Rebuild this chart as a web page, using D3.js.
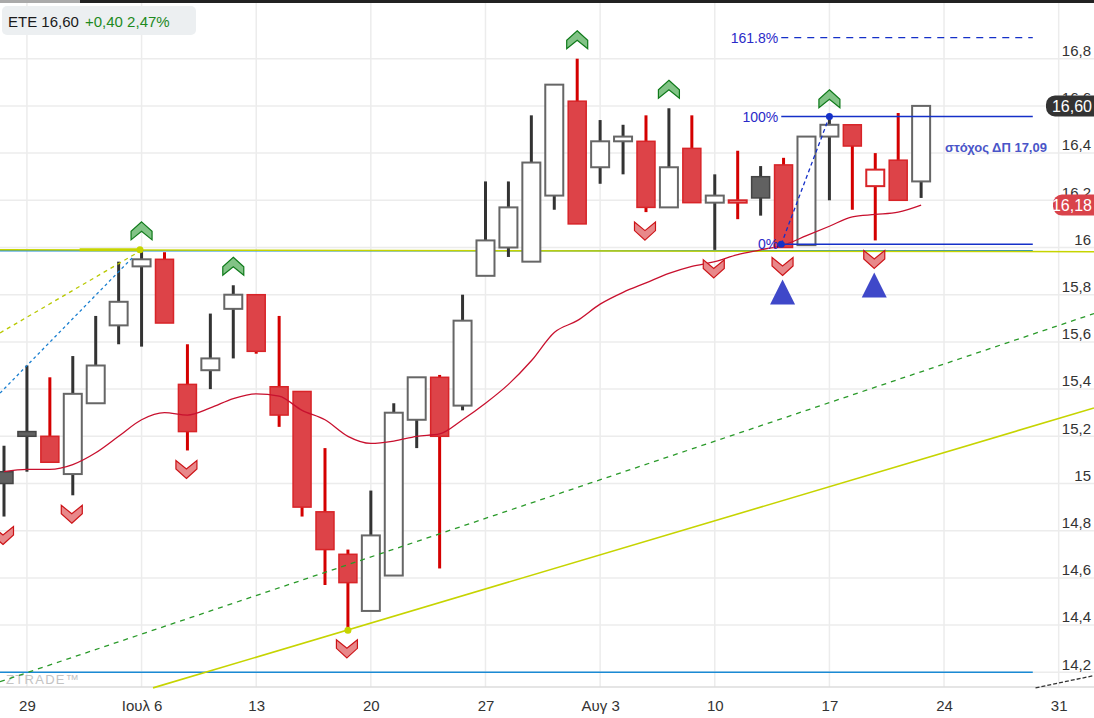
<!DOCTYPE html>
<html><head><meta charset="utf-8">
<script src="https://cdn.jsdelivr.net/npm/d3@7"></script>
<style>html,body{margin:0;padding:0;background:#fff;overflow:hidden}svg{display:block;font-family:"Liberation Sans",Arial,sans-serif}</style>
</head><body><svg id="c" width="1094" height="718"></svg>
<script>
// ---------- data ----------
const dates = ["2020-06-26","2020-06-29","2020-06-30","2020-07-01","2020-07-02","2020-07-03",
"2020-07-06","2020-07-07","2020-07-08","2020-07-09","2020-07-10",
"2020-07-13","2020-07-14","2020-07-15","2020-07-16","2020-07-17",
"2020-07-20","2020-07-21","2020-07-22","2020-07-23","2020-07-24",
"2020-07-27","2020-07-28","2020-07-29","2020-07-30","2020-07-31",
"2020-08-03","2020-08-04","2020-08-05","2020-08-06","2020-08-07",
"2020-08-10","2020-08-11","2020-08-12","2020-08-13","2020-08-14",
"2020-08-17","2020-08-18","2020-08-19","2020-08-20","2020-08-21"];
const open  = [15.05,15.22,15.20,15.04,15.34,15.67, 15.92,15.95,15.42,15.48,15.74, 15.80,15.41,15.39,14.88,14.70, 14.46,14.61,15.27,15.45,15.33, 15.88,16.00,15.94,16.22,16.62, 16.34,16.45,16.45,16.17,16.42, 16.19,16.19,16.30,16.35,16.01, 16.47,16.52,16.26,16.37,16.28];
const high  = [15.16,15.50,15.45,15.54,15.71,15.94, 15.99,15.98,15.59,15.72,15.84, 15.80,15.71,15.39,15.15,14.72, 14.97,15.34,15.45,15.46,15.80, 16.28,16.28,16.56,16.69,16.80, 16.54,16.52,16.56,16.59,16.56, 16.31,16.41,16.345,16.38,16.47, 16.55,16.52,16.40,16.57,16.60];
const low   = [14.86,15.05,15.09,14.95,15.34,15.59, 15.58,15.68,15.14,15.40,15.53, 15.55,15.24,14.86,14.57,14.38, 14.46,14.61,15.15,14.64,15.31, 15.88,15.96,15.94,16.16,16.10, 16.27,16.31,16.15,16.17,16.19, 15.99,16.12,16.135,16.00,16.01, 16.20,16.16,16.03,16.20,16.21];
const close = [15.00,15.20,15.09,15.38,15.50,15.77, 15.95,15.68,15.22,15.53,15.80, 15.56,15.29,14.90,14.72,14.58, 14.78,15.30,15.45,15.20,15.69, 16.03,16.17,16.36,16.69,16.10, 16.45,16.47,16.17,16.34,16.19, 16.22,16.20,16.21,16.00,16.47, 16.52,16.43,16.33,16.20,16.60];
const prevClose = 14.97;
const movingAvg = [15.05,15.06,15.06,15.08,15.13,15.20, 15.27,15.30,15.29,15.32,15.36, 15.38,15.37,15.31,15.27,15.20, 15.17,15.18,15.20,15.21,15.27, 15.34,15.42,15.52,15.64,15.69, 15.76,15.81,15.85,15.89,15.92, 15.94,15.97,15.99,16.01,16.05, 16.09,16.13,16.14,16.15,16.18];
const upSignals   = ["2020-07-06","2020-07-10","2020-07-31","2020-08-06","2020-08-17"];
const downSignals = ["2020-06-26","2020-07-01","2020-07-08","2020-07-17","2020-08-05","2020-08-10","2020-08-13","2020-08-19"];
const buyTriangles = ["2020-08-13","2020-08-19"];
const xTickIndex  = [1,6,11,16,21,26,31,36,41,46];
const xTickLabels = ["29","Ιουλ 6","13","20","27","Αυγ 3","10","17","24","31"];
const yTicks = [14.2,14.4,14.6,14.8,15.0,15.2,15.4,15.6,15.8,16.0,16.2,16.4,16.6,16.8];
// drawn lines as [index, value] pairs
const supportLine   = [[6.5,14.134],[47.54,15.32]];
const channelDashed = [[-0.174,14.16],[47.54,15.72]];
const resistYellow  = [[-0.174,15.990],[47.54,15.982]];
const resistYellowBold = [[3.3,15.990],[5.93,15.990]];
const blueLevelTop  = [[-0.174,15.986],[44.87,15.986]];
const blueLevelBot  = [[-0.174,14.200],[44.87,14.200]];
const yellowDashTL  = [[-0.174,15.638],[5.80,15.977]];
const blueDashTL    = [[-0.174,15.383],[5.63,15.960]];
const darkDashBR    = [[44.99,14.134],[47.54,14.186]];
const yellowDots    = [[5.93,15.990],[15,14.378]];
const fibStart = 33.9, fibEnd = 44.87, fib100Idx = 36;
const fib0 = 16.014, fib100 = 16.555;
const fibLevels = [0,1,1.618];
const fibLabels = ["0%","100%","161.8%"];
const targetText = "στόχος ΔΠ 17,09";
const lastPrice = 16.60, lastMA = 16.18;
const headerName = "ETE 16,60", headerChange = "+0,40 2,47%";

// ---------- scales ----------
const W = 1094, H = 718, plotBottom = 687;
const svg = d3.select("#c");
const x = d3.scaleLinear().domain([-0.1744, 47.54]).range([0, W]);
const y = d3.scaleLinear().domain([14.2, 16.8]).range([672.3, 58.7]);
const idx = d => dates.indexOf(d);
const fmt = v => d3.format(".1f")(v).replace(".0","").replace(".",",");
const line = d3.line().x(p => x(p[0])).y(p => y(p[1]));

// ---------- grid ----------
const grid = svg.append("g");
grid.selectAll("line.h").data(yTicks).join("line")
  .attr("x1",0).attr("x2",W).attr("y1",d=>y(d)).attr("y2",d=>y(d))
  .attr("stroke","#ececec").attr("stroke-width",1.5);
grid.selectAll("line.v").data(xTickIndex).join("line")
  .attr("x1",d=>x(d)).attr("x2",d=>x(d)).attr("y1",3).attr("y2",plotBottom)
  .attr("stroke","#ececec").attr("stroke-width",1.5);
svg.append("line").attr("x1",0).attr("x2",W).attr("y1",plotBottom).attr("y2",plotBottom)
  .attr("stroke","#dcdcdc").attr("stroke-width",1.5);

// watermark
svg.append("text").attr("x",6).attr("y",684).text("ZTRADE™")
  .attr("font-size",13).attr("letter-spacing",1.3)
  .attr("fill","#c4c4c4");

// ---------- horizontal levels below candles ----------
const drawLine = (pts, color, w, dash) => svg.append("path").attr("d", line(pts))
  .attr("fill","none").attr("stroke",color).attr("stroke-width",w)
  .attr("stroke-dasharray", dash || null);

drawLine(blueLevelTop, "#1a8ad4", 1.5);
drawLine(blueLevelBot, "#1a8ad4", 1.5);
drawLine(resistYellow, "#c6d400", 1.5);
drawLine(resistYellowBold, "#c6d400", 3);

// ---------- candles ----------
const data = dates.map((d,i) => ({i, o:open[i], h:high[i], l:low[i], c:close[i], pc: i ? close[i-1] : prevClose}));
const cg = svg.append("g");
const isRed = d => d.c < d.pc;
const hollow = d => d.c > d.o;
cg.selectAll("line").data(data).join("line")
  .attr("x1",d=>x(d.i)).attr("x2",d=>x(d.i)).attr("y1",d=>y(d.h)).attr("y2",d=>y(d.l))
  .attr("stroke",d=>isRed(d)?"#d40000":"#333").attr("stroke-width",3);
cg.selectAll("rect").data(data).join("rect")
  .attr("x",d=>x(d.i)-9).attr("width",18)
  .attr("y",d=>y(Math.max(d.o,d.c))).attr("height",d=>Math.max(2,Math.abs(y(d.o)-y(d.c))))
  .attr("fill",d=>hollow(d)?"#fff":(isRed(d)?"#dd4348":"#616161"))
  .attr("stroke",d=>isRed(d)?"#d82428":(hollow(d)?"#666":"#444"))
  .attr("stroke-width",d=>hollow(d)?2:1.5);

// moving average
svg.append("path").datum(movingAvg)
  .attr("d", d3.line().x((v,i)=>x(i)).y(v=>y(v)).curve(d3.curveMonotoneX))
  .attr("fill","none").attr("stroke","#c8102e").attr("stroke-width",1.3);

// ---------- trend lines ----------
drawLine(channelDashed, "#2a9a2a", 1.3, "5,5");
drawLine(supportLine, "#c6d400", 1.6);
drawLine(yellowDashTL, "#b8c800", 1.3, "4,4");
drawLine(blueDashTL, "#1a7fd0", 1.3, "3,3");
drawLine(darkDashBR, "#333", 1.3, "4,2");
svg.selectAll("circle.yd").data(yellowDots).join("circle")
  .attr("cx",p=>x(p[0])).attr("cy",p=>y(p[1])).attr("r",3.5).attr("fill","#c6d400");

// ---------- fibonacci ----------
const fibCol = "#1530c8";
fibLevels.forEach((lv,k) => {
  const v = fib0 + lv*(fib100-fib0);
  svg.append("line").attr("x1",x(fibStart)).attr("x2",x(fibEnd)).attr("y1",y(v)).attr("y2",y(v))
    .attr("stroke",fibCol).attr("stroke-width",1.4).attr("stroke-dasharray", lv>1.5 ? "7,6" : null);
  svg.append("text").attr("x",x(fibStart)-3).attr("y",y(v)).attr("dy","0.36em")
    .attr("text-anchor","end").attr("font-size",14).attr("fill","#2a2ac8").text(fibLabels[k]);
});
svg.append("path").attr("d", line([[fibStart,fib0],[fib100Idx,fib100]]))
  .attr("stroke",fibCol).attr("stroke-width",1.3).attr("stroke-dasharray","4,3").attr("fill","none");
[[fibStart,fib0],[fib100Idx,fib100]].forEach(p => svg.append("circle")
  .attr("cx",x(p[0])).attr("cy",y(p[1])).attr("r",3.5).attr("fill",fibCol));
svg.append("text").attr("x",996).attr("y",y(16.4)-1).attr("text-anchor","middle")
  .attr("font-size",13).attr("font-weight","bold").attr("fill","#4a55c8").text(targetText);

// ---------- signals ----------
const upPts = "0,-9 10.5,0.5 10.5,9 0,0.5 -10.5,9 -10.5,0.5";
const dnPts = "0,9 10.5,-0.5 10.5,-9 0,-0.5 -10.5,-9 -10.5,-0.5";
svg.selectAll("polygon.up").data(upSignals).join("polygon")
  .attr("points",upPts)
  .attr("transform",d=>`translate(${x(idx(d))},${y(high[idx(d)])-19})`)
  .attr("fill","#82c386").attr("stroke","#0f7a1a").attr("stroke-width",1.2);
svg.selectAll("polygon.dn").data(downSignals).join("polygon")
  .attr("points",dnPts)
  .attr("transform",d=>`translate(${x(idx(d))-1},${y(low[idx(d)])+19})`)
  .attr("fill","#e8888a").attr("stroke","#cc1418").attr("stroke-width",1.2);
svg.selectAll("polygon.tr").data(buyTriangles).join("polygon")
  .attr("points","0,0 12.5,25 -12.5,25")
  .attr("transform",d=>`translate(${x(idx(d))-1},${y(low[idx(d)])+32})`)
  .attr("fill","#3f48c9");

// ---------- axes ----------
const yAxis = svg.append("g").attr("transform","translate(1091,0)")
  .call(d3.axisLeft(y).tickValues(yTicks).tickFormat(fmt).tickSize(0).tickPadding(0));
yAxis.select(".domain").remove();
yAxis.selectAll("text").attr("font-size",15).attr("fill","#333").attr("dy","-0.22em")
  .attr("font-family","'Liberation Sans',Arial,sans-serif");

const xAxis = svg.append("g").attr("transform",`translate(0,${plotBottom})`)
  .call(d3.axisBottom(x).tickValues(xTickIndex).tickFormat((d,i)=>xTickLabels[i]).tickSize(0).tickPadding(0));
xAxis.select(".domain").remove();
xAxis.selectAll("text").attr("font-size",15).attr("fill","#333").attr("y",24).attr("dy",0)
  .attr("font-family","'Liberation Sans',Arial,sans-serif");

// ---------- price badges ----------
const badge = (v, col, x0) => {
  svg.append("rect").attr("x",x0).attr("y",y(v)-10.5).attr("width",W-x0+10).attr("height",21)
    .attr("rx",9).attr("fill",col);
  svg.append("text").attr("x",1092).attr("y",y(v)).attr("dy","0.36em").attr("text-anchor","end")
    .attr("font-size",16).attr("fill","#fff").text(d3.format(".2f")(v).replace(".",","));
};
badge(lastPrice, "#333", 1046);
badge(lastMA, "#d9434b", 1053);

// ---------- header ----------
svg.append("rect").attr("x",0).attr("y",0).attr("width",W).attr("height",3).attr("fill","#222");
svg.append("rect").attr("x",0).attr("y",0).attr("width",80).attr("height",3).attr("fill","#aaa");
svg.append("rect").attr("x",2).attr("y",6).attr("width",194).attr("height",29).attr("rx",5).attr("fill","#eceff1");
const ht = svg.append("text").attr("x",8).attr("y",26.5).attr("font-size",15);
ht.append("tspan").attr("fill","#1a1a1a").text(headerName);
ht.append("tspan").attr("x",85).attr("fill","#1e8a1e").text(headerChange);
</script></body></html>
